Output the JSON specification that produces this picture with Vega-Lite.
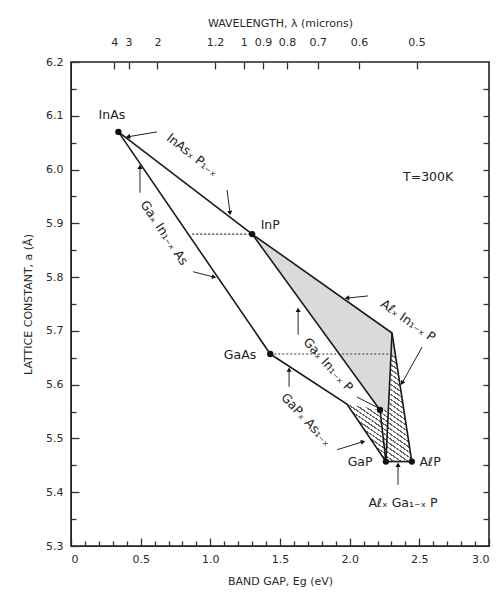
{
  "$schema": "https://vega.github.io/schema/vega-lite/v6.json",
  "width": 418,
  "height": 484,
  "autosize": {"type": "none"},
  "padding": {"left": 71, "top": 62, "right": 9, "bottom": 49},
  "background": "white",
  "config": {
    "view": {"stroke": "#222", "strokeWidth": 1.6},
    "font": "DejaVu Sans",
    "axis": {
      "grid": false,
      "labelColor": "#2a2a2a",
      "titleColor": "#2a2a2a",
      "tickColor": "#333",
      "domainColor": "#222",
      "labelFont": "DejaVu Sans",
      "titleFont": "DejaVu Sans",
      "labelFontSize": 11,
      "titleFontSize": 11,
      "titleFontWeight": "normal",
      "tickWidth": 1.3
    }
  },
  "datasets": {
    "direct": [
      {"i": 1, "x": 1.30, "y": 5.88},
      {"i": 2, "x": 2.304, "y": 5.696},
      {"i": 3, "x": 2.328, "y": 5.655},
      {"i": 4, "x": 2.296, "y": 5.655},
      {"i": 5, "x": 2.278, "y": 5.553},
      {"i": 6, "x": 2.218, "y": 5.553}
    ],
    "hatchR": [
      {"i": 1, "x": 2.296, "y": 5.655},
      {"i": 2, "x": 2.328, "y": 5.655},
      {"i": 3, "x": 2.446, "y": 5.457},
      {"i": 4, "x": 2.26, "y": 5.457}
    ],
    "hatchL": [
      {"i": 1, "x": 1.98, "y": 5.564},
      {"i": 2, "x": 2.218, "y": 5.553},
      {"i": 3, "x": 2.278, "y": 5.553},
      {"i": 4, "x": 2.26, "y": 5.457}
    ],
    "segs": [
      {"seg": "InAsP", "i": 1, "x": 0.34, "y": 6.07},
      {"seg": "InAsP", "i": 2, "x": 1.30, "y": 5.88},
      {"seg": "GaInAs", "i": 1, "x": 0.34, "y": 6.07},
      {"seg": "GaInAs", "i": 2, "x": 1.43, "y": 5.657},
      {"seg": "AlInP", "i": 1, "x": 1.30, "y": 5.88},
      {"seg": "AlInP", "i": 2, "x": 2.304, "y": 5.696},
      {"seg": "AlInP", "i": 3, "x": 2.446, "y": 5.457},
      {"seg": "GaInP", "i": 1, "x": 1.30, "y": 5.88},
      {"seg": "GaInP", "i": 2, "x": 2.218, "y": 5.553},
      {"seg": "GaInP", "i": 3, "x": 2.26, "y": 5.457},
      {"seg": "GaAsP", "i": 1, "x": 1.43, "y": 5.657},
      {"seg": "GaAsP", "i": 2, "x": 1.98, "y": 5.564},
      {"seg": "GaAsP", "i": 3, "x": 2.26, "y": 5.457},
      {"seg": "AlGaP", "i": 1, "x": 2.26, "y": 5.457},
      {"seg": "AlGaP", "i": 2, "x": 2.446, "y": 5.457},
      {"seg": "bound", "i": 1, "x": 2.304, "y": 5.696},
      {"seg": "bound", "i": 2, "x": 2.26, "y": 5.457}
    ],
    "dotted": [
      {"seg": "a", "x": 0.87, "y": 5.88},
      {"seg": "a", "x": 1.30, "y": 5.88},
      {"seg": "b", "x": 1.43, "y": 5.657},
      {"seg": "b", "x": 2.31, "y": 5.657}
    ],
    "leads": [
      {"seg": "L1", "i": 1, "x": 0.617, "y": 6.070},
      {"seg": "L1", "i": 2, "x": 0.409, "y": 6.061},
      {"seg": "L2", "i": 1, "x": 1.12, "y": 5.962},
      {"seg": "L2", "i": 2, "x": 1.141, "y": 5.919},
      {"seg": "L3", "i": 1, "x": 0.495, "y": 5.957},
      {"seg": "L3", "i": 2, "x": 0.495, "y": 6.005},
      {"seg": "L4", "i": 1, "x": 0.876, "y": 5.810},
      {"seg": "L4", "i": 2, "x": 1.027, "y": 5.800},
      {"seg": "L5", "i": 1, "x": 1.630, "y": 5.693},
      {"seg": "L5", "i": 2, "x": 1.630, "y": 5.739},
      {"seg": "L6", "i": 1, "x": 2.053, "y": 5.577},
      {"seg": "L6", "i": 2, "x": 2.218, "y": 5.555},
      {"seg": "L7", "i": 1, "x": 2.132, "y": 5.765},
      {"seg": "L7", "i": 2, "x": 1.981, "y": 5.761},
      {"seg": "L8", "i": 1, "x": 2.520, "y": 5.670},
      {"seg": "L8", "i": 2, "x": 2.376, "y": 5.603},
      {"seg": "L9", "i": 1, "x": 1.565, "y": 5.596},
      {"seg": "L9", "i": 2, "x": 1.565, "y": 5.628},
      {"seg": "L10", "i": 1, "x": 1.910, "y": 5.479},
      {"seg": "L10", "i": 2, "x": 2.096, "y": 5.494},
      {"seg": "L11", "i": 1, "x": 2.347, "y": 5.414},
      {"seg": "L11", "i": 2, "x": 2.347, "y": 5.451}
    ],
    "heads": [
      {"x": 0.409, "y": 6.061, "angle": 260},
      {"x": 1.141, "y": 5.919, "angle": 173},
      {"x": 0.495, "y": 6.005, "angle": 0},
      {"x": 1.027, "y": 5.800, "angle": 103},
      {"x": 1.630, "y": 5.739, "angle": 0},
      {"x": 1.981, "y": 5.761, "angle": 265},
      {"x": 2.376, "y": 5.603, "angle": 209},
      {"x": 1.565, "y": 5.628, "angle": 0},
      {"x": 2.096, "y": 5.494, "angle": 73},
      {"x": 2.347, "y": 5.451, "angle": 0}
    ],
    "dots": [
      {"name": "InAs", "x": 0.34, "y": 6.07},
      {"name": "InP", "x": 1.30, "y": 5.88},
      {"name": "GaAs", "x": 1.43, "y": 5.657},
      {"name": "GaP", "x": 2.26, "y": 5.457},
      {"name": "AlP", "x": 2.446, "y": 5.457},
      {"name": "GaInP cross", "x": 2.218, "y": 5.553}
    ],
    "labels": [
      {"t": "InAs", "x": 0.294, "y": 6.101, "angle": 0},
      {"t": "InP", "x": 1.43, "y": 5.897, "angle": 0},
      {"t": "GaAs", "x": 1.213, "y": 5.655, "angle": 0},
      {"t": "GaP", "x": 2.075, "y": 5.457, "angle": 0},
      {"t": "AℓP", "x": 2.577, "y": 5.457, "angle": 0},
      {"t": "Aℓₓ Ga₁₋ₓ P", "x": 2.383, "y": 5.38, "angle": 0},
      {"t": "T=300K", "x": 2.563, "y": 5.986, "angle": 0},
      {"t": "InAsₓ P₁₋ₓ", "x": 0.869, "y": 6.027, "angle": 38},
      {"t": "Gaₓ In₁₋ₓ As", "x": 0.668, "y": 5.882, "angle": 56},
      {"t": "Gaₓ In₁₋ₓ P", "x": 1.845, "y": 5.637, "angle": 48},
      {"t": "Aℓₓ In₁₋ₓ P", "x": 2.419, "y": 5.719, "angle": 35},
      {"t": "GaPₓ As₁₋ₓ", "x": 1.687, "y": 5.535, "angle": 47}
    ]
  },
  "layer": [
    {
      "data": {"name": "direct"},
      "mark": {"type": "line", "interpolate": "linear-closed", "fill": "#dadada", "stroke": null, "strokeWidth": 0},
      "encoding": {
        "x": {"field": "x", "type": "quantitative", "scale": {"domain": [0, 3], "nice": false, "zero": false},
          "axis": {"orient": "bottom", "values": [0, 0.5, 1, 1.5, 2, 2.5, 3], "tickSize": -8, "labelPadding": 15,
            "labelExpr": "datum.value == 0 ? '0' : format(datum.value, '.1f')", "title": "BAND GAP, Eg (eV)", "titlePadding": 11}},
        "y": {"field": "y", "type": "quantitative", "scale": {"domain": [5.3, 6.2], "nice": false, "zero": false},
          "axis": {"orient": "left", "values": [5.3, 5.4, 5.5, 5.6, 5.7, 5.8, 5.9, 6.0, 6.1, 6.2], "format": ".1f", "tickSize": -8, "labelPadding": 16,
            "title": "LATTICE CONSTANT, a (Å)", "titlePadding": 12}},
        "order": {"field": "i", "type": "quantitative"}
      }
    },
    {
      "data": {"name": "hatchR"},
      "mark": {"type": "line", "interpolate": "linear-closed", "stroke": null, "strokeWidth": 0,
        "fill": {"gradient": "linear", "x1": 0, "y1": 1, "x2": 0.194, "y2": -0.137, "stops": [
          {"offset": 0, "color": "#666"}, {"offset": 0.012, "color": "#666"}, {"offset": 0.012, "color": "#fff"},
          {"offset": 0.04, "color": "#fff"}, {"offset": 0.04, "color": "#666"}, {"offset": 0.052, "color": "#666"}, {"offset": 0.052, "color": "#fff"},
          {"offset": 0.08, "color": "#fff"}, {"offset": 0.08, "color": "#666"}, {"offset": 0.092, "color": "#666"}, {"offset": 0.092, "color": "#fff"},
          {"offset": 0.12, "color": "#fff"}, {"offset": 0.12, "color": "#666"}, {"offset": 0.132, "color": "#666"}, {"offset": 0.132, "color": "#fff"},
          {"offset": 0.16, "color": "#fff"}, {"offset": 0.16, "color": "#666"}, {"offset": 0.172, "color": "#666"}, {"offset": 0.172, "color": "#fff"},
          {"offset": 0.2, "color": "#fff"}, {"offset": 0.2, "color": "#666"}, {"offset": 0.212, "color": "#666"}, {"offset": 0.212, "color": "#fff"},
          {"offset": 0.24, "color": "#fff"}, {"offset": 0.24, "color": "#666"}, {"offset": 0.252, "color": "#666"}, {"offset": 0.252, "color": "#fff"},
          {"offset": 0.28, "color": "#fff"}, {"offset": 0.28, "color": "#666"}, {"offset": 0.292, "color": "#666"}, {"offset": 0.292, "color": "#fff"},
          {"offset": 0.32, "color": "#fff"}, {"offset": 0.32, "color": "#666"}, {"offset": 0.332, "color": "#666"}, {"offset": 0.332, "color": "#fff"},
          {"offset": 0.36, "color": "#fff"}, {"offset": 0.36, "color": "#666"}, {"offset": 0.372, "color": "#666"}, {"offset": 0.372, "color": "#fff"},
          {"offset": 0.4, "color": "#fff"}, {"offset": 0.4, "color": "#666"}, {"offset": 0.412, "color": "#666"}, {"offset": 0.412, "color": "#fff"},
          {"offset": 0.44, "color": "#fff"}, {"offset": 0.44, "color": "#666"}, {"offset": 0.452, "color": "#666"}, {"offset": 0.452, "color": "#fff"},
          {"offset": 0.48, "color": "#fff"}, {"offset": 0.48, "color": "#666"}, {"offset": 0.492, "color": "#666"}, {"offset": 0.492, "color": "#fff"},
          {"offset": 0.52, "color": "#fff"}, {"offset": 0.52, "color": "#666"}, {"offset": 0.532, "color": "#666"}, {"offset": 0.532, "color": "#fff"},
          {"offset": 0.56, "color": "#fff"}, {"offset": 0.56, "color": "#666"}, {"offset": 0.572, "color": "#666"}, {"offset": 0.572, "color": "#fff"},
          {"offset": 0.6, "color": "#fff"}, {"offset": 0.6, "color": "#666"}, {"offset": 0.612, "color": "#666"}, {"offset": 0.612, "color": "#fff"},
          {"offset": 0.64, "color": "#fff"}, {"offset": 0.64, "color": "#666"}, {"offset": 0.652, "color": "#666"}, {"offset": 0.652, "color": "#fff"},
          {"offset": 0.68, "color": "#fff"}, {"offset": 0.68, "color": "#666"}, {"offset": 0.692, "color": "#666"}, {"offset": 0.692, "color": "#fff"},
          {"offset": 0.72, "color": "#fff"}, {"offset": 0.72, "color": "#666"}, {"offset": 0.732, "color": "#666"}, {"offset": 0.732, "color": "#fff"},
          {"offset": 0.76, "color": "#fff"}, {"offset": 0.76, "color": "#666"}, {"offset": 0.772, "color": "#666"}, {"offset": 0.772, "color": "#fff"},
          {"offset": 0.8, "color": "#fff"}, {"offset": 0.8, "color": "#666"}, {"offset": 0.812, "color": "#666"}, {"offset": 0.812, "color": "#fff"},
          {"offset": 0.84, "color": "#fff"}, {"offset": 0.84, "color": "#666"}, {"offset": 0.852, "color": "#666"}, {"offset": 0.852, "color": "#fff"},
          {"offset": 0.88, "color": "#fff"}, {"offset": 0.88, "color": "#666"}, {"offset": 0.892, "color": "#666"}, {"offset": 0.892, "color": "#fff"},
          {"offset": 0.92, "color": "#fff"}, {"offset": 0.92, "color": "#666"}, {"offset": 0.932, "color": "#666"}, {"offset": 0.932, "color": "#fff"},
          {"offset": 0.96, "color": "#fff"}, {"offset": 0.96, "color": "#666"}, {"offset": 0.972, "color": "#666"}, {"offset": 0.972, "color": "#fff"},
          {"offset": 1, "color": "#fff"}
        ]}},
      "encoding": {
        "x": {"field": "x", "type": "quantitative", "axis": null},
        "y": {"field": "y", "type": "quantitative", "axis": null},
        "order": {"field": "i", "type": "quantitative"}
      }
    },
    {
      "data": {"name": "hatchL"},
      "mark": {"type": "line", "interpolate": "linear-closed", "stroke": null, "strokeWidth": 0,
        "fill": {"gradient": "linear", "x1": 0, "y1": 1, "x2": 0.59, "y2": -0.201, "stops": [
          {"offset": 0, "color": "#666"}, {"offset": 0.017, "color": "#666"}, {"offset": 0.017, "color": "#fff"},
          {"offset": 0.0556, "color": "#fff"}, {"offset": 0.0556, "color": "#666"}, {"offset": 0.0726, "color": "#666"}, {"offset": 0.0726, "color": "#fff"},
          {"offset": 0.1111, "color": "#fff"}, {"offset": 0.1111, "color": "#666"}, {"offset": 0.1281, "color": "#666"}, {"offset": 0.1281, "color": "#fff"},
          {"offset": 0.1667, "color": "#fff"}, {"offset": 0.1667, "color": "#666"}, {"offset": 0.1837, "color": "#666"}, {"offset": 0.1837, "color": "#fff"},
          {"offset": 0.2222, "color": "#fff"}, {"offset": 0.2222, "color": "#666"}, {"offset": 0.2392, "color": "#666"}, {"offset": 0.2392, "color": "#fff"},
          {"offset": 0.2778, "color": "#fff"}, {"offset": 0.2778, "color": "#666"}, {"offset": 0.2948, "color": "#666"}, {"offset": 0.2948, "color": "#fff"},
          {"offset": 0.3333, "color": "#fff"}, {"offset": 0.3333, "color": "#666"}, {"offset": 0.3503, "color": "#666"}, {"offset": 0.3503, "color": "#fff"},
          {"offset": 0.3889, "color": "#fff"}, {"offset": 0.3889, "color": "#666"}, {"offset": 0.4059, "color": "#666"}, {"offset": 0.4059, "color": "#fff"},
          {"offset": 0.4444, "color": "#fff"}, {"offset": 0.4444, "color": "#666"}, {"offset": 0.4614, "color": "#666"}, {"offset": 0.4614, "color": "#fff"},
          {"offset": 0.5, "color": "#fff"}, {"offset": 0.5, "color": "#666"}, {"offset": 0.517, "color": "#666"}, {"offset": 0.517, "color": "#fff"},
          {"offset": 0.5556, "color": "#fff"}, {"offset": 0.5556, "color": "#666"}, {"offset": 0.5726, "color": "#666"}, {"offset": 0.5726, "color": "#fff"},
          {"offset": 0.6111, "color": "#fff"}, {"offset": 0.6111, "color": "#666"}, {"offset": 0.6281, "color": "#666"}, {"offset": 0.6281, "color": "#fff"},
          {"offset": 0.6667, "color": "#fff"}, {"offset": 0.6667, "color": "#666"}, {"offset": 0.6837, "color": "#666"}, {"offset": 0.6837, "color": "#fff"},
          {"offset": 0.7222, "color": "#fff"}, {"offset": 0.7222, "color": "#666"}, {"offset": 0.7392, "color": "#666"}, {"offset": 0.7392, "color": "#fff"},
          {"offset": 0.7778, "color": "#fff"}, {"offset": 0.7778, "color": "#666"}, {"offset": 0.7948, "color": "#666"}, {"offset": 0.7948, "color": "#fff"},
          {"offset": 0.8333, "color": "#fff"}, {"offset": 0.8333, "color": "#666"}, {"offset": 0.8503, "color": "#666"}, {"offset": 0.8503, "color": "#fff"},
          {"offset": 0.8889, "color": "#fff"}, {"offset": 0.8889, "color": "#666"}, {"offset": 0.9059, "color": "#666"}, {"offset": 0.9059, "color": "#fff"},
          {"offset": 0.9444, "color": "#fff"}, {"offset": 0.9444, "color": "#666"}, {"offset": 0.9614, "color": "#666"}, {"offset": 0.9614, "color": "#fff"},
          {"offset": 1, "color": "#fff"}
        ]}},
      "encoding": {
        "x": {"field": "x", "type": "quantitative", "axis": null},
        "y": {"field": "y", "type": "quantitative", "axis": null},
        "order": {"field": "i", "type": "quantitative"}
      }
    },
    {
      "data": {"name": "segs"},
      "mark": {"type": "line", "color": "#1a1a1a", "strokeWidth": 1.6},
      "encoding": {
        "x": {"field": "x", "type": "quantitative",
          "axis": {"orient": "bottom", "values": [0.1, 0.2, 0.3, 0.4, 0.6, 0.7, 0.8, 0.9, 1.1, 1.2, 1.3, 1.4, 1.6, 1.7, 1.8, 1.9, 2.1, 2.2, 2.3, 2.4, 2.6, 2.7, 2.8, 2.9],
            "tickSize": -5, "labels": false, "domain": false, "title": null}},
        "y": {"field": "y", "type": "quantitative",
          "axis": {"orient": "right", "values": [5.35, 5.4, 5.45, 5.5, 5.55, 5.6, 5.65, 5.7, 5.75, 5.8, 5.85, 5.9, 5.95, 6.0, 6.05, 6.1, 6.15],
            "tickSize": -6, "labels": false, "domain": false, "title": null}},
        "detail": {"field": "seg", "type": "nominal"},
        "order": {"field": "i", "type": "quantitative"}
      }
    },
    {
      "data": {"name": "dotted"},
      "mark": {"type": "line", "color": "#333", "strokeWidth": 1.1, "strokeDash": [2, 2]},
      "encoding": {
        "x": {"field": "x", "type": "quantitative",
          "axis": {"orient": "top", "values": [0.31, 0.4133, 0.62, 1.0333, 1.24, 1.3778, 1.55, 1.7714, 2.0667, 2.48],
            "labelExpr": "'' + round(12.4 / datum.value) / 10", "tickSize": -7, "labelPadding": 22, "domain": false,
            "title": "WAVELENGTH, λ (microns)", "titlePadding": 8}},
        "y": {"field": "y", "type": "quantitative",
          "axis": {"orient": "left", "values": [5.35, 5.45, 5.55, 5.65, 5.75, 5.85, 5.95, 6.05, 6.15],
            "tickSize": -5, "labels": false, "domain": false, "title": null}},
        "detail": {"field": "seg", "type": "nominal"}
      }
    },
    {
      "data": {"name": "leads"},
      "mark": {"type": "line", "color": "#222", "strokeWidth": 1},
      "encoding": {
        "x": {"field": "x", "type": "quantitative", "axis": null},
        "y": {"field": "y", "type": "quantitative", "axis": null},
        "detail": {"field": "seg", "type": "nominal"},
        "order": {"field": "i", "type": "quantitative"}
      }
    },
    {
      "data": {"name": "heads"},
      "mark": {"type": "point", "shape": "triangle-up", "filled": true, "color": "#111", "size": 26, "opacity": 1},
      "encoding": {
        "x": {"field": "x", "type": "quantitative", "axis": null},
        "y": {"field": "y", "type": "quantitative", "axis": null},
        "angle": {"field": "angle", "type": "quantitative", "scale": null}
      }
    },
    {
      "data": {"name": "dots"},
      "mark": {"type": "point", "shape": "circle", "filled": true, "color": "#111", "size": 40, "opacity": 1},
      "encoding": {
        "x": {"field": "x", "type": "quantitative", "axis": null},
        "y": {"field": "y", "type": "quantitative", "axis": null}
      }
    },
    {
      "data": {"name": "labels"},
      "mark": {"type": "text", "fontSize": 12.5, "color": "#222", "align": "center", "baseline": "middle", "font": "DejaVu Sans"},
      "encoding": {
        "x": {"field": "x", "type": "quantitative", "axis": null},
        "y": {"field": "y", "type": "quantitative", "axis": null},
        "text": {"field": "t", "type": "nominal"},
        "angle": {"field": "angle", "type": "quantitative", "scale": null}
      }
    }
  ],
  "resolve": {"axis": {"x": "independent", "y": "independent"}}
}
